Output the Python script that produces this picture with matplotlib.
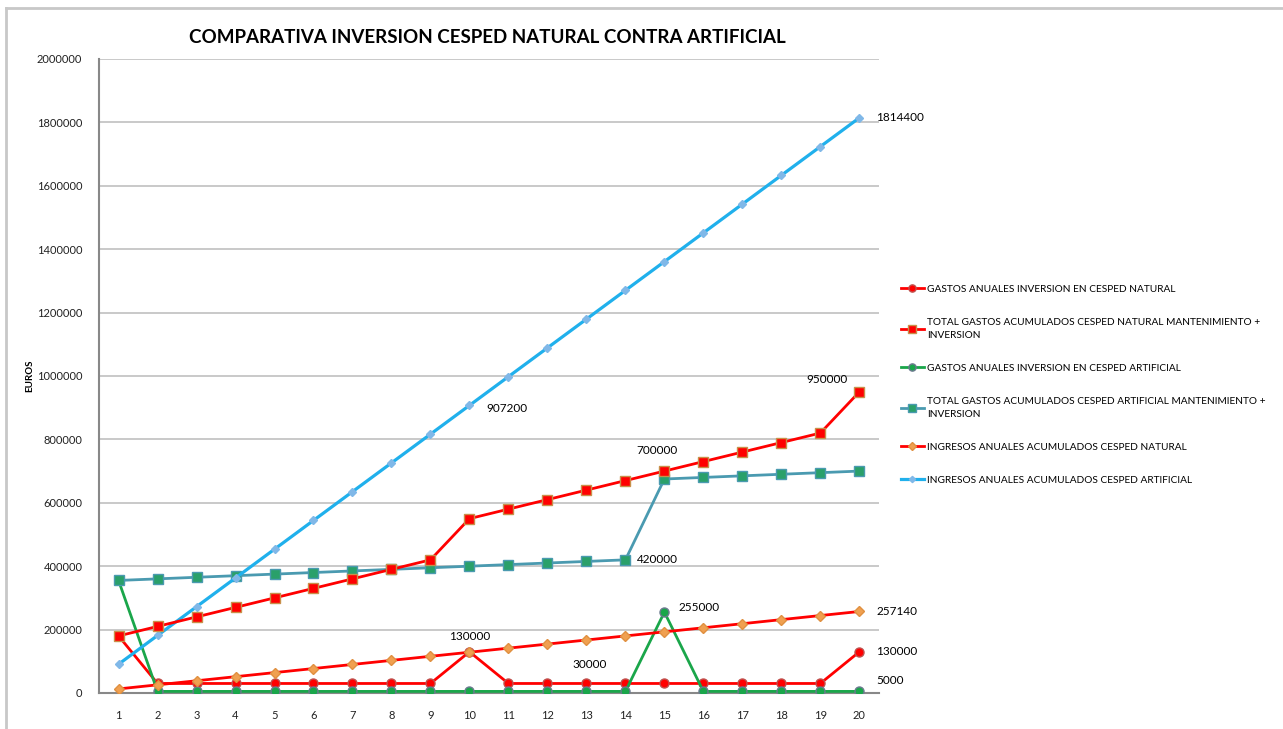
import matplotlib
matplotlib.use("Agg")
import matplotlib.pyplot as plt
from matplotlib.lines import Line2D
from matplotlib.ticker import FuncFormatter

plt.rcParams['font.family'] = ['Lato', 'DejaVu Sans']

# years
years = list(range(1, 21))

gastos_natural = [180000, 30000, 30000, 30000, 30000, 30000, 30000, 30000, 30000, 130000,
                  30000, 30000, 30000, 30000, 30000, 30000, 30000, 30000, 30000, 130000]
total_natural = [180000, 210000, 240000, 270000, 300000, 330000, 360000, 390000, 420000, 550000,
                 580000, 610000, 640000, 670000, 700000, 730000, 760000, 790000, 820000, 950000]
gastos_artificial = [355000, 5000, 5000, 5000, 5000, 5000, 5000, 5000, 5000, 5000,
                     5000, 5000, 5000, 5000, 255000, 5000, 5000, 5000, 5000, 5000]
total_artificial = [355000, 360000, 365000, 370000, 375000, 380000, 385000, 390000, 395000, 400000,
                    405000, 410000, 415000, 420000, 675000, 680000, 685000, 690000, 695000, 700000]
ingresos_natural = [12857, 25714, 38571, 51428, 64285, 77142, 89999, 102856, 115713, 128570,
                    141427, 154284, 167141, 179998, 192855, 205712, 218569, 231426, 244283, 257140]
ingresos_artificial = [90720, 181440, 272160, 362880, 453600, 544320, 635040, 725760, 816480, 907200,
                       997920, 1088640, 1179360, 1270080, 1360800, 1451520, 1542240, 1632960, 1723680, 1814400]

labels = [
    'GASTOS ANUALES INVERSION EN CESPED NATURAL',
    'TOTAL GASTOS ACUMULADOS CESPED NATURAL MANTENIMIENTO +\nINVERSION',
    'GASTOS ANUALES INVERSION EN CESPED ARTIFICIAL',
    'TOTAL GASTOS ACUMULADOS CESPED ARTIFICIAL MANTENIMIENTO +\nINVERSION',
    'INGRESOS ANUALES ACUMULADOS CESPED NATURAL',
    'INGRESOS ANUALES ACUMULADOS CESPED ARTIFICIAL',
]

fig = plt.figure(figsize=(12.83, 7.29), dpi=100)
ax = fig.add_axes([0.0772, 0.0494, 0.6078, 0.8697])

# outer frame (left + top edges visible)
fig.add_artist(Line2D([0.005, 0.005], [0.0, 0.989], color='#c8c8c8', lw=2, transform=fig.transFigure))
fig.add_artist(Line2D([0.005, 1.0], [0.989, 0.989], color='#c8c8c8', lw=2, transform=fig.transFigure))

h1, = ax.plot(years, gastos_natural, color='#ff0000', lw=2, marker='o', ms=6.5,
              mfc='#ff0000', mec='#c0504d', zorder=3)
h2, = ax.plot(years, total_natural, color='#ff0000', lw=2, marker='s', ms=6.5,
              mfc='#ff0000', mec='#c8904a', zorder=4)
h3, = ax.plot(years, gastos_artificial, color='#1aa64a', lw=2, marker='o', ms=6.5,
              mfc='#1aa64a', mec='#6b7a8f', zorder=3)
h4, = ax.plot(years, total_artificial, color='#4a9ab0', lw=2, marker='s', ms=6.5,
              mfc='#2aa06a', mec='#4a9ab0', zorder=3)
h5, = ax.plot(years, ingresos_natural, color='#ff0000', lw=2, marker='D', ms=5.5,
              mfc='#f0a050', mec='#e09040', zorder=3)
h6, = ax.plot(years, ingresos_artificial, color='#20b0ec', lw=2.3, marker='D', ms=4,
              mfc='#80b8e8', mec='#80b8e8', zorder=3)

ax.set_xlim(0.5, 20.5)
ax.set_ylim(0, 2000000)
ax.set_xticks(years)
ax.set_yticks(range(0, 2000001, 200000))
ax.yaxis.set_major_formatter(FuncFormatter(lambda v, p: f'{int(v)}'))
ax.tick_params(axis='both', length=0, labelsize=8, colors='#222222')
ax.tick_params(axis='x', pad=12)
ax.tick_params(axis='y', pad=12)
ax.grid(axis='y', color='#c0c0c0', lw=1.2)
ax.set_axisbelow(True)
for s in ['top', 'right']:
    ax.spines[s].set_visible(False)
ax.spines['left'].set_color('#888888')
ax.spines['bottom'].set_color('#888888')
ax.spines['left'].set_linewidth(1.5)
ax.spines['bottom'].set_linewidth(1.5)

fig.text(0.0235, 0.485, 'EUROS', rotation=90, ha='center', va='center',
         fontsize=7, fontweight='bold')

fig.text(0.38, 0.948, 'COMPARATIVA INVERSION CESPED NATURAL CONTRA ARTIFICIAL',
         ha='center', va='center', fontsize=13.5, fontweight='bold')

# value labels
fs = 8.5
ax.annotate('1814400', (20, ingresos_artificial[19]), xytext=(12, 0), textcoords='offset points', fontsize=fs, va='center')
ax.annotate('907200', (10, ingresos_artificial[9]), xytext=(12, -2), textcoords='offset points', fontsize=fs, va='center')
ax.annotate('950000', (20, total_natural[19]), xytext=(-38, 9), textcoords='offset points', fontsize=fs, va='center')
ax.annotate('700000', (15, total_natural[14]), xytext=(-20, 15), textcoords='offset points', fontsize=fs, va='center')
ax.annotate('420000', (14, total_artificial[13]), xytext=(8, 0), textcoords='offset points', fontsize=fs, va='center')
ax.annotate('255000', (15, gastos_artificial[14]), xytext=(10, 3), textcoords='offset points', fontsize=fs, va='center')
ax.annotate('257140', (20, ingresos_natural[19]), xytext=(12, 0), textcoords='offset points', fontsize=fs, va='center')
ax.annotate('130000', (10, gastos_natural[9]), xytext=(0, 11), textcoords='offset points', fontsize=fs, va='center', ha='center')
ax.annotate('30000', (13, gastos_natural[12]), xytext=(-10, 14), textcoords='offset points', fontsize=fs, va='center')
ax.annotate('130000', (20, gastos_natural[19]), xytext=(12, 0), textcoords='offset points', fontsize=fs, va='center')
ax.annotate('5000', (20, gastos_artificial[19]), xytext=(12, 8), textcoords='offset points', fontsize=fs, va='center')

leg = fig.legend([h1, h2, h3, h4, h5, h6], labels, loc='upper left',
                 bbox_to_anchor=(0.695, 0.622), frameon=False, fontsize=7.3,
                 labelspacing=2.35, handlelength=2.3, handletextpad=0.3,
                 markerscale=0.8)
for t in leg.get_texts():
    t.set_linespacing(1.6)

fig.savefig('out.png', dpi=100, facecolor='white')
